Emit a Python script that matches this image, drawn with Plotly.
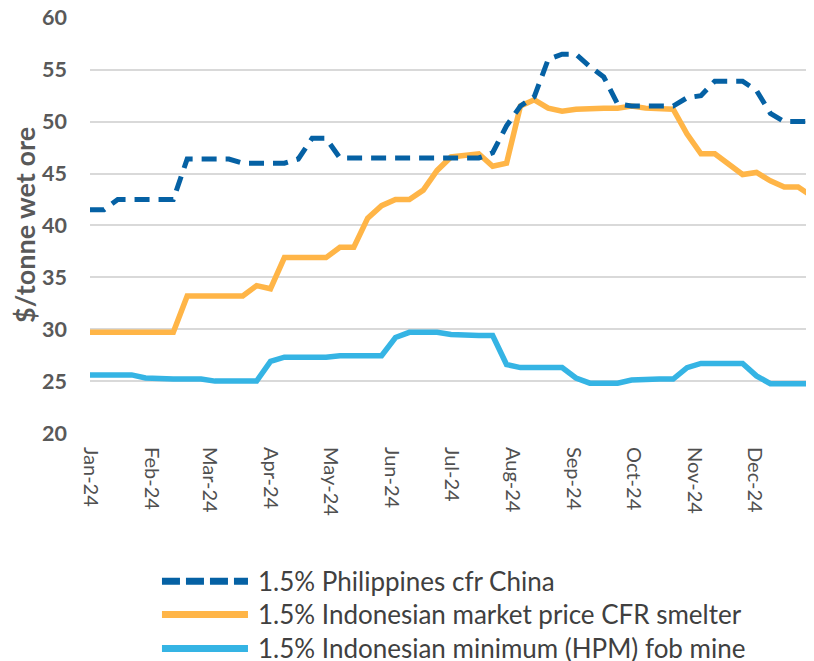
import plotly.graph_objects as go
import pandas as pd

weeks = list(pd.date_range("2024-01-01", periods=53, freq="7D").strftime("%Y-%m-%d"))

philippines = [41.5, 41.5, 42.5, 42.5, 42.5, 42.5, 42.5, 46.4, 46.4, 46.4,
               46.4, 46.0, 46.0, 46.0, 46.0, 46.4, 48.4, 48.4, 46.5, 46.5,
               46.5, 46.5, 46.5, 46.5, 46.5, 46.5, 46.5, 46.5, 46.5, 47.0,
               49.6, 51.5, 52.4, 56.0, 56.5, 56.5, 55.3, 54.3, 51.7, 51.5,
               51.5, 51.5, 51.5, 52.3, 52.5, 53.9, 53.9, 53.9, 53.0, 50.8,
               50.0, 50.0, 50.0]
indo_market = [29.7, 29.7, 29.7, 29.7, 29.7, 29.7, 29.7, 33.2, 33.2, 33.2,
               33.2, 33.2, 34.2, 33.9, 36.9, 36.9, 36.9, 36.9, 37.9, 37.9,
               40.7, 41.9, 42.5, 42.5, 43.4, 45.3, 46.6, 46.7, 46.9, 45.7,
               46.0, 51.5, 52.1, 51.3, 51.0, 51.2, 51.3, 51.3, 51.3, 51.5,
               51.3, 51.2, 51.2, 48.8, 46.9, 46.9, 45.9, 44.9, 45.1, 44.3,
               43.7, 43.7, 42.8]
indo_hpm = [25.6, 25.6, 25.6, 25.6, 25.3, 25.2, 25.2, 25.2, 25.2, 25.0,
            25.0, 25.0, 25.0, 26.9, 27.3, 27.3, 27.3, 27.3, 27.45, 27.45,
            27.45, 27.45, 29.2, 29.7, 29.7, 29.7, 29.5, 29.4, 29.4, 29.4,
            26.6, 26.3, 26.3, 26.3, 26.3, 25.3, 24.8, 24.8, 24.8, 25.1,
            25.2, 25.2, 25.2, 26.3, 26.7, 26.7, 26.7, 26.7, 25.5, 24.75,
            24.75, 24.75, 24.75]

series_names = ["1.5% Philippines cfr China",
                "1.5% Indonesian market price CFR smelter",
                "1.5% Indonesian minimum (HPM) fob mine"]
month_ticks = list(pd.date_range("2024-01-01", periods=12, freq="MS").strftime("%Y-%m-%d"))
month_labels = ["Jan-24", "Feb-24", "Mar-24", "Apr-24", "May-24", "Jun-24",
                "Jul-24", "Aug-24", "Sep-24", "Oct-24", "Nov-24", "Dec-24"]
y_ticks = [20, 25, 30, 35, 40, 45, 50, 55, 60]

c_dark = "#0561A4"
c_orange = "#FFB547"
c_light = "#35B4E4"
FONT = "Lato"
GRAY = "#595959"

fig = go.Figure()
fig.add_trace(go.Scatter(x=weeks, y=indo_hpm, mode="lines", name=series_names[2],
                         line=dict(color=c_light, width=5.5), showlegend=False))
fig.add_trace(go.Scatter(x=weeks, y=indo_market, mode="lines", name=series_names[1],
                         line=dict(color=c_orange, width=5.5), showlegend=False))
fig.add_trace(go.Scatter(x=weeks, y=philippines, mode="lines", name=series_names[0],
                         line=dict(color=c_dark, width=5, dash="15px,9px"), showlegend=False))

fig.update_layout(
    width=814, height=661,
    margin=dict(l=82, r=8, t=9, b=236),
    paper_bgcolor="white", plot_bgcolor="white",
    font=dict(family=FONT, color=GRAY),
    xaxis=dict(type="date", range=["2024-01-01", "2024-12-31"],
               tickvals=month_ticks, ticktext=month_labels, tickangle=90,
               showgrid=False, zeroline=False, showline=False, ticks="",
               tickfont=dict(size=20, family=FONT, color="#505050"),
               ticklabelstandoff=13, ticklabeloverflow="allow", automargin=False),
    yaxis=dict(range=[20, 60.08], tickvals=y_ticks, showgrid=True,
               gridcolor="#D9D9D9", gridwidth=1.5, zeroline=False, showline=False,
               ticks="", ticklabelstandoff=22, ticklabeloverflow="allow", automargin=False,
               tickfont=dict(size=21.5, family=FONT, color=GRAY, weight="bold"),
               title=dict(text="$/tonne wet ore", standoff=0,
                          font=dict(size=27, family=FONT, color=GRAY, weight="bold"))),
)

# custom legend below the plot
rows = [(-0.3566, c_dark, True), (-0.436, c_orange, False), (-0.518, c_light, False)]
for (yy, col, dashed), name in zip(rows, series_names):
    fig.add_shape(type="line", xref="paper", yref="paper", x0=0.0994, x1=0.2182,
                  y0=yy, y1=yy,
                  line=dict(color=col, width=7, dash="18px,6px" if dashed else "solid"))
    fig.add_annotation(xref="paper", yref="paper", x=0.2293, y=yy, text=name,
                       showarrow=False, xanchor="left", yanchor="middle",
                       font=dict(size=26, family=FONT, color="#404040"))

fig.write_html("out.html")
